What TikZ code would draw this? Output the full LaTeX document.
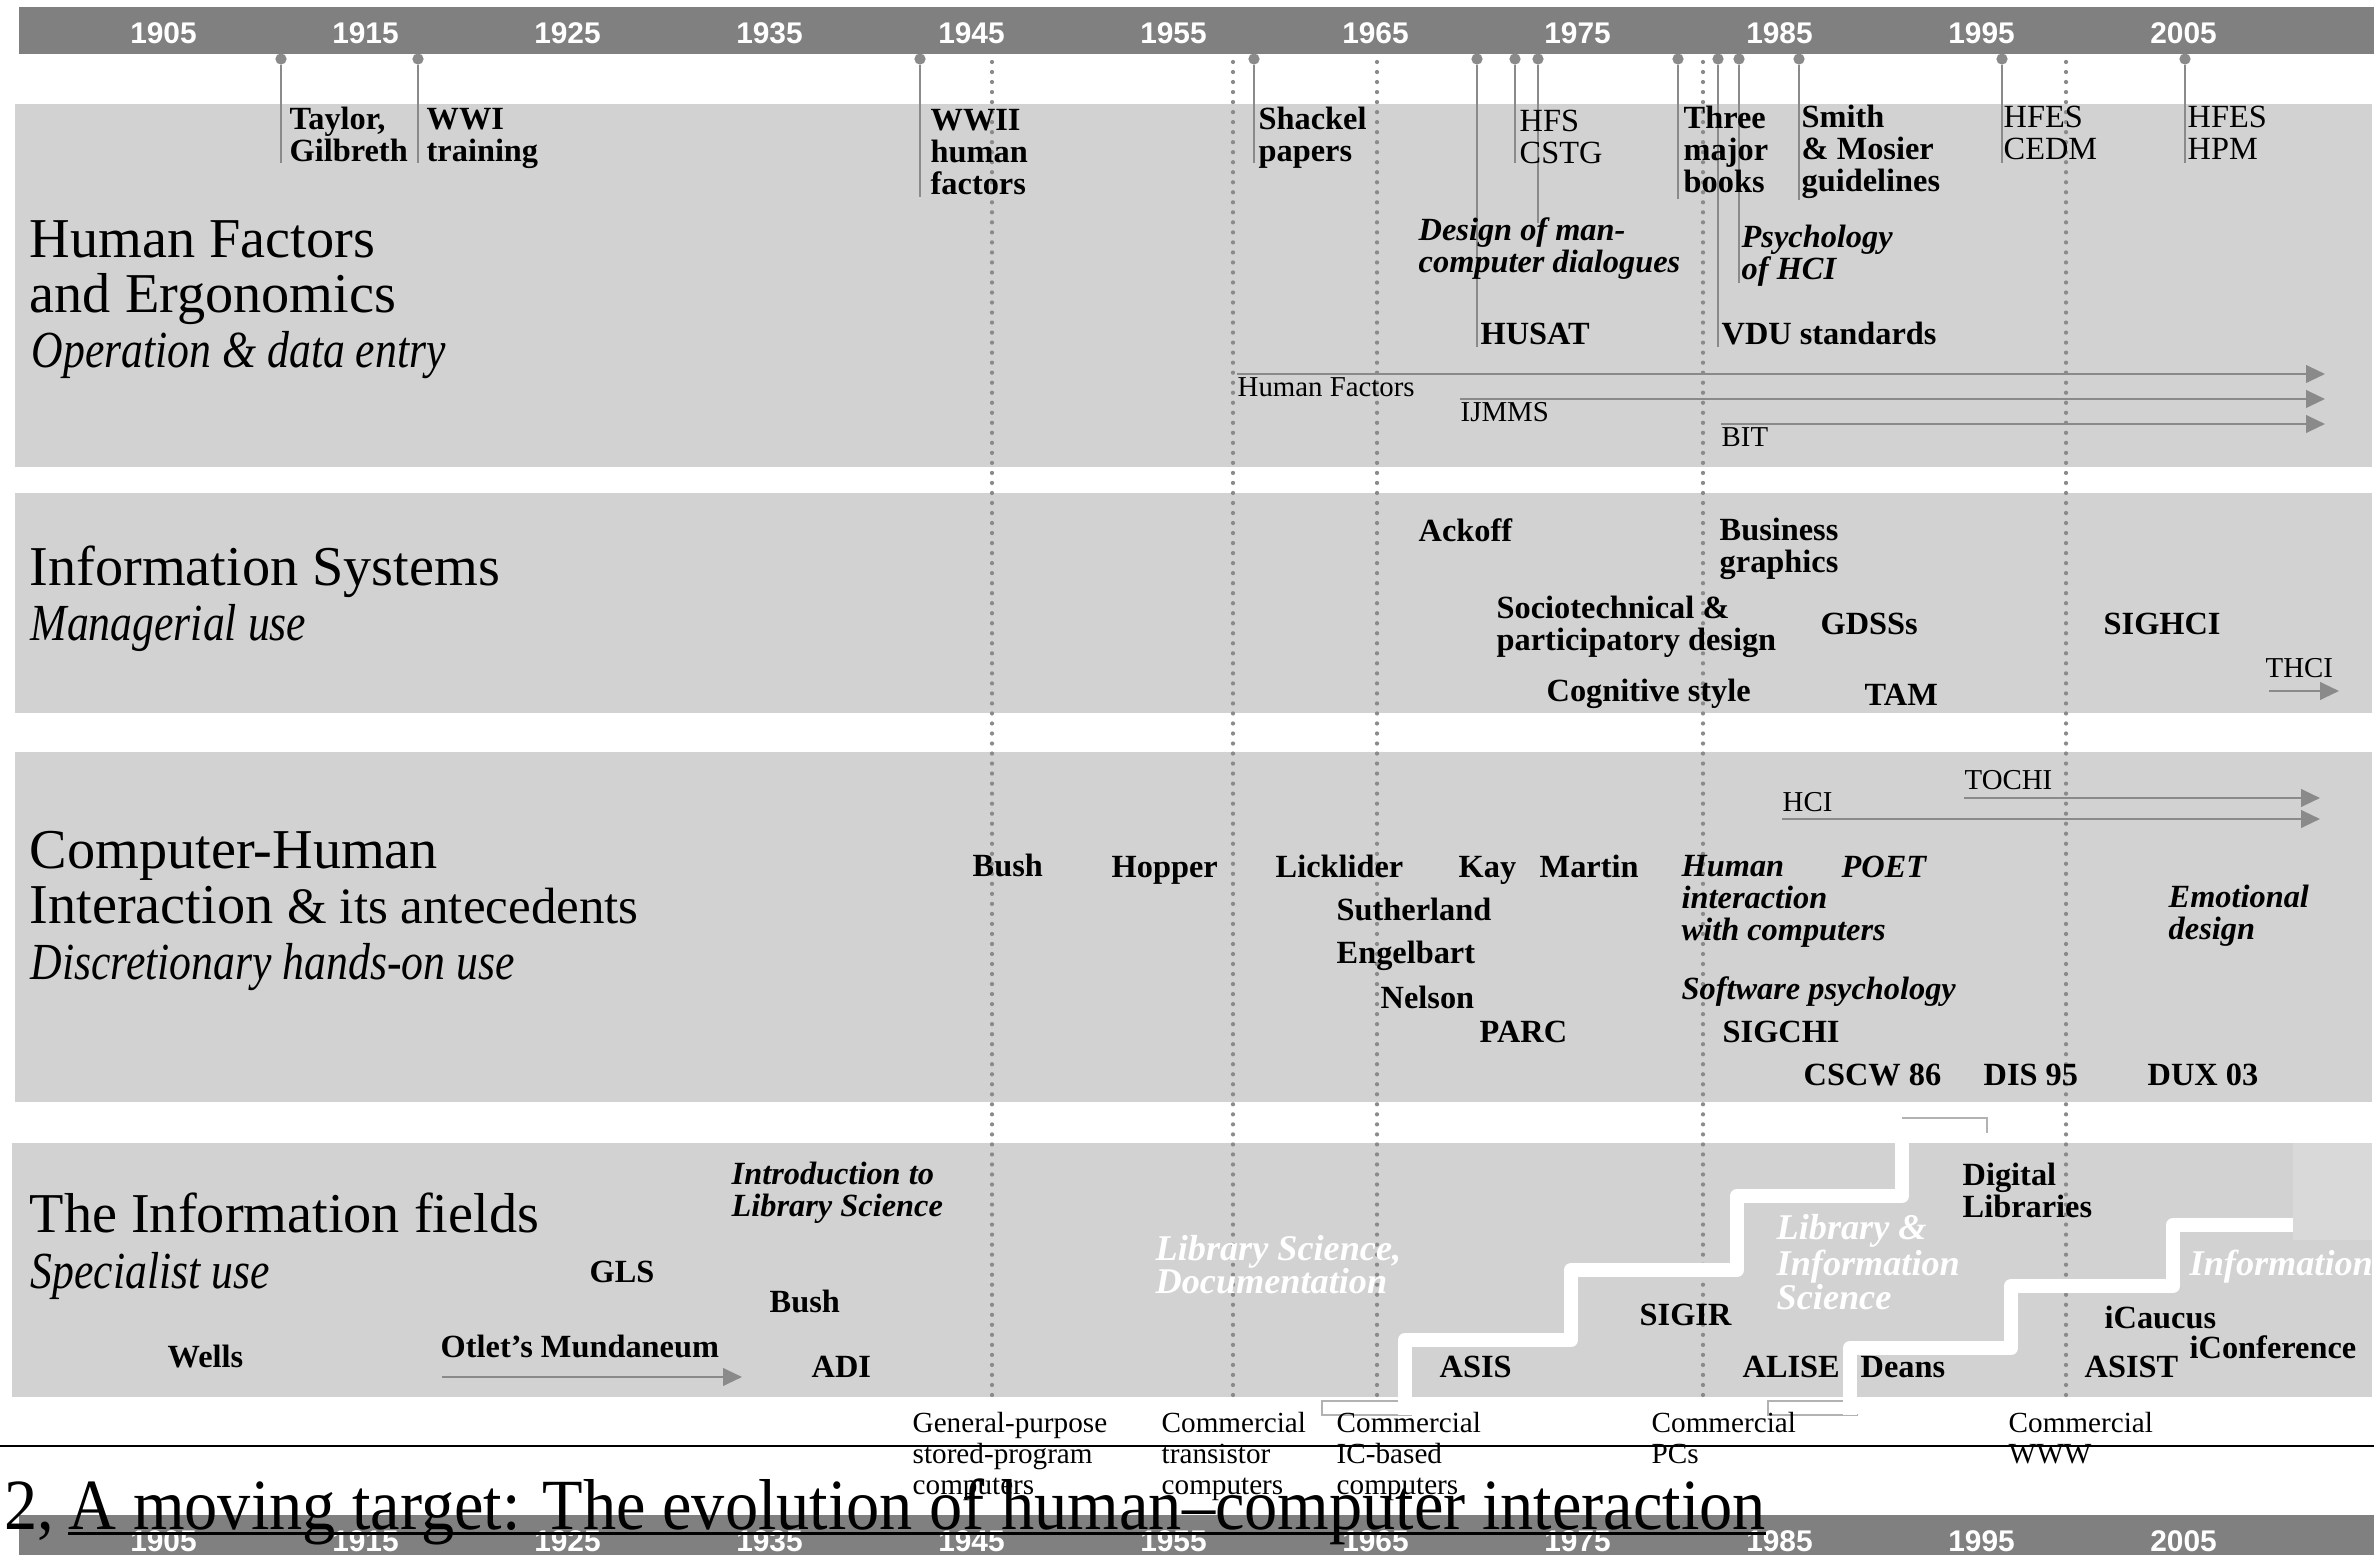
\documentclass[tikz,border=0pt]{standalone}
\usepackage{fontspec}
\setmainfont{Liberation Serif}
\newfontfamily\yearfont{Liberation Sans}
\newfontfamily\usagefont[FakeStretch=0.84, Ligatures=TeX]{Liberation Serif}
\newfontfamily\captionfont[FakeStretch=0.92, Ligatures=TeX]{Liberation Serif}
\usetikzlibrary{arrows.meta}

\definecolor{bandgray}{HTML}{D2D2D2}
\definecolor{bargray}{HTML}{808080}
\definecolor{linegray}{HTML}{8A8A8A}
\definecolor{patchgray}{HTML}{D9D9D9}

\tikzset{
  band/.style={fill=bandgray},
  yearlbl/.style={text=white, inner sep=0pt, font=\yearfont\bfseries\fontsize{8.5}{9}\selectfont},
  fieldname/.style={anchor=base west, inner sep=0pt, align=left, font=\fontsize{16}{15.9}\selectfont},
  usage/.style={anchor=base west, inner sep=0pt, font=\usagefont\itshape\fontsize{14.8}{16}\selectfont},
  event/.style={anchor=base west, inner sep=0pt, align=left, font=\bfseries\fontsize{9.2}{9.1}\selectfont},
  eventrm/.style={anchor=base west, inner sep=0pt, align=left, font=\fontsize{9.2}{9.1}\selectfont},
  booktitle/.style={anchor=base west, inner sep=0pt, align=left, font=\bfseries\itshape\fontsize{9.2}{9.1}\selectfont},
  ghost/.style={anchor=base west, inner sep=0pt, align=left, text=white, font=\bfseries\itshape\fontsize{10.3}{9.4}\selectfont},
  journal/.style={anchor=base west, inner sep=0pt, font=\fontsize{8.2}{9}\selectfont},
  tech/.style={anchor=base west, inner sep=0pt, align=left, font=\fontsize{8.3}{8.8}\selectfont},
  captiontext/.style={anchor=base west, inner sep=0pt, font=\captionfont\fontsize{20.5}{22}\selectfont},
  era/.style={linegray, line width=1.2pt, dash pattern=on 0pt off 2.85pt, line cap=round},
  tick/.style={linegray, line width=0.45pt},
  tickdot/.style={circle, fill=linegray, inner sep=0pt, minimum size=3.2pt},
  flow/.style={linegray, line width=0.65pt, -{Triangle[length=5.4pt,width=5pt]}},
  stair/.style={white, line width=4pt, line join=round},
  stairedge/.style={black!30, line width=0.3pt},
}

\begin{document}
\begin{tikzpicture}[x=0.01cm, y=-0.01cm]
\useasboundingbox (0,0) rectangle (2374,1555);
\clip (0,0) rectangle (2374,1555);

% bars and bands
\fill[bargray] (19,7) rectangle (2374,54);
\fill[band] (15,104) rectangle (2372,467);
\fill[band] (15,493) rectangle (2372,713);
\fill[band] (15,752) rectangle (2372,1102);
\fill[band] (12,1143) rectangle (2372,1397);
\fill[patchgray] (2293,1143) rectangle (2372,1240);
\fill[bargray] (19,1515) rectangle (2374,1560);

\foreach \yr in {1905,1915,...,2005} {
  \node[yearlbl] (top\yr) at ({163.5+(\yr-1905)*20.2},33) {\yr};
  \node[yearlbl] (bot\yr) at ({163.5+(\yr-1905)*20.2},1541) {\yr};
}

% era lines
\foreach \x [count=\k] in {992,1233,1377,1703,2066} {
  \coordinate (eratop\k) at (\x,62);
  \coordinate (erabot\k) at (\x,1405);
  \draw[era] (eratop\k) -- (erabot\k);
}

% ticks from the top bar
\foreach \x/\y [count=\k] in {281/163,418/163,920/197,1254/163,1477/347,1515/163,1538/223,1678/199,1718/347,1739/283,1799/200,2002/163,2185/163} {
  \node[tickdot] (dot\k) at (\x,59) {};
  \coordinate (foot\k) at (\x,\y);
  \draw[tick] (dot\k) -- (foot\k);
}

% staircases in the information fields
\draw[stairedge] (1398,1401) -- (1322,1401) -- (1322,1415) -- (1412,1415);
\draw[stair] (1405,1415) |- (1571,1340) |- (1737,1270) |- (1902,1196) |- (1981,1125);
\draw[stairedge] (1902,1118) -- (1987,1118) -- (1987,1133);
\draw[stairedge] (1843,1401) -- (1768,1401) -- (1768,1415) -- (1858,1415);
\draw[stair] (1850,1415) |- (2011,1348) |- (2173,1286) |- (2293,1225);

% Human Factors and Ergonomics (multi-line nodes sit on their last line)
\node[fieldname] (hfname) at (29,313) {Human Factors\\and Ergonomics};
\node[usage] (hfuse) at (31,368) {Operation \& data entry};
\node[event] (taylor) at (289,162) {Taylor,\\Gilbreth};
\node[event] (wwi) at (426,162) {WWI\\training};
\node[event] (wwii) at (930,195) {WWII\\human\\factors};
\node[event] (shackel) at (1258,162) {Shackel\\papers};
\node[eventrm] (hfs) at (1519,164) {HFS\\CSTG};
\node[event] (three) at (1683,193) {Three\\major\\books};
\node[event] (smith) at (1801,192) {Smith\\\& Mosier\\guidelines};
\node[eventrm] (cedm) at (2003,160) {HFES\\CEDM};
\node[eventrm] (hpm) at (2187,160) {HFES\\HPM};
\node[booktitle] (dialogues) at (1418,273) {Design of man-\\computer dialogues};
\node[booktitle] (psyhci) at (1741,280) {Psychology\\of HCI};
\node[event] (husat) at (1480,345) {HUSAT};
\node[event] (vdu) at (1721,345) {VDU standards};

\node[journal] (hfj) at (1237,397) {Human Factors};
\coordinate (hfjs) at (1237,374);
\coordinate (hfje) at (2325,374);
\draw[flow] (hfjs) -- (hfje);
\node[journal] (ijmms) at (1460,422) {IJMMS};
\coordinate (ijmmss) at (1460,399);
\coordinate (ijmmse) at (2325,399);
\draw[flow] (ijmmss) -- (ijmmse);
\node[journal] (bit) at (1721,447) {BIT};
\coordinate (bits) at (1721,424);
\coordinate (bite) at (2325,424);
\draw[flow] (bits) -- (bite);

% Information Systems
\node[fieldname] (isname) at (29,586) {Information Systems};
\node[usage] (isuse) at (30,641) {Managerial use};
\node[event] (ackoff) at (1418,542) {Ackoff};
\node[event] (busgraph) at (1719,573) {Business\\graphics};
\node[event] (sociotech) at (1496,651) {Sociotechnical \&\\participatory design};
\node[event] (gdss) at (1820,635) {GDSSs};
\node[event] (sighci) at (2103,635) {SIGHCI};
\node[event] (cogstyle) at (1546,702) {Cognitive style};
\node[event] (tam) at (1864,706) {TAM};
\node[journal] (thci) at (2265,678) {THCI};
\coordinate (thcis) at (2269,691);
\coordinate (thcie) at (2339,691);
\draw[flow] (thcis) -- (thcie);

% Computer-Human Interaction
\node[fieldname] (chiname) at (29,924) {Computer-Human\\Interaction {\fontsize{14.5}{15.9}\selectfont\& its antecedents}};
\node[usage] (chiuse) at (30,980) {Discretionary hands-on use};
\node[event] (bush) at (972,877) {Bush};
\node[event] (hopper) at (1111,878) {Hopper};
\node[event] (licklider) at (1275,878) {Licklider};
\node[event] (kay) at (1458,878) {Kay};
\node[event] (martin) at (1539,878) {Martin};
\node[booktitle] (hiwc) at (1681,941) {Human\\interaction\\with computers};
\node[booktitle] (poet) at (1841,878) {POET};
\node[event] (sutherland) at (1336,921) {Sutherland};
\node[event] (engelbart) at (1336,964) {Engelbart};
\node[event] (nelson) at (1380,1009) {Nelson};
\node[event] (parc) at (1479,1043) {PARC};
\node[booktitle] (softpsy) at (1681,1000) {Software psychology};
\node[event] (sigchi) at (1722,1043) {SIGCHI};
\node[event] (cscw) at (1803,1086) {CSCW 86};
\node[event] (dis) at (1983,1086) {DIS 95};
\node[event] (dux) at (2147,1086) {DUX 03};
\node[booktitle] (emotional) at (2168,940) {Emotional\\design};
\node[journal] (tochi) at (1964,790) {TOCHI};
\coordinate (tochis) at (1964,798);
\coordinate (tochie) at (2320,798);
\draw[flow] (tochis) -- (tochie);
\node[journal] (hcij) at (1782,812) {HCI};
\coordinate (hcijs) at (1782,819);
\coordinate (hcije) at (2320,819);
\draw[flow] (hcijs) -- (hcije);

% The Information fields
\node[fieldname] (ifname) at (29,1232) {The Information fields};
\node[usage] (ifuse) at (30,1288) {Specialist use};
\node[booktitle] (intro) at (731,1217) {Introduction to\\Library Science};
\node[event] (gls) at (589,1282) {GLS};
\node[event] (bushif) at (769,1313) {Bush};
\node[event] (wells) at (167,1367) {Wells};
\node[event] (otlet) at (440,1357) {Otlet's Mundaneum};
\coordinate (otlets) at (442,1377);
\coordinate (otlete) at (742,1377);
\draw[flow] (otlets) -- (otlete);
\node[event] (adi) at (811,1377) {ADI};
\node[ghost] (lsdoc) at (1155,1294) {Library Science,\\Documentation};
\node[event] (asis) at (1439,1377) {ASIS};
\node[event] (sigir) at (1639,1325) {SIGIR};
\node[ghost] (lis) at (1776,1309) {Library \&\\Information\\Science};
\node[event] (diglib) at (1962,1218) {Digital\\Libraries};
\node[event] (alise) at (1742,1377) {ALISE};
\node[event] (deans) at (1860,1377) {Deans};
\node[event] (icaucus) at (2104,1328) {iCaucus};
\node[event] (iconf) at (2189,1358) {iConference};
\node[event] (asist) at (2084,1377) {ASIST};
\node[ghost] (infofield) at (2189,1275) {Information};

% computing eras
\node[tech] (gpc) at (912,1494) {General-purpose\\stored-program\\computers};
\node[tech] (transistor) at (1161,1494) {Commercial\\transistor\\computers};
\node[tech] (icbased) at (1336,1494) {Commercial\\IC-based\\computers};
\node[tech] (pcs) at (1651,1463) {Commercial\\PCs};
\node[tech] (www) at (2008,1463) {Commercial\\WWW};

% caption
\coordinate (rulel) at (0,1446);
\coordinate (ruler) at (2374,1446);
\draw[line width=0.85pt] (rulel) -- (ruler);
\node[captiontext] (capnum) at (4,1529) {2,};
\node[captiontext] (captext) at (68,1529) {A moving target: The evolution of human--computer interaction};
\draw[line width=0.85pt] ([yshift=-1.2pt]captext.base west) -- ([yshift=-1.2pt]captext.base east);

\end{tikzpicture}
\end{document}
